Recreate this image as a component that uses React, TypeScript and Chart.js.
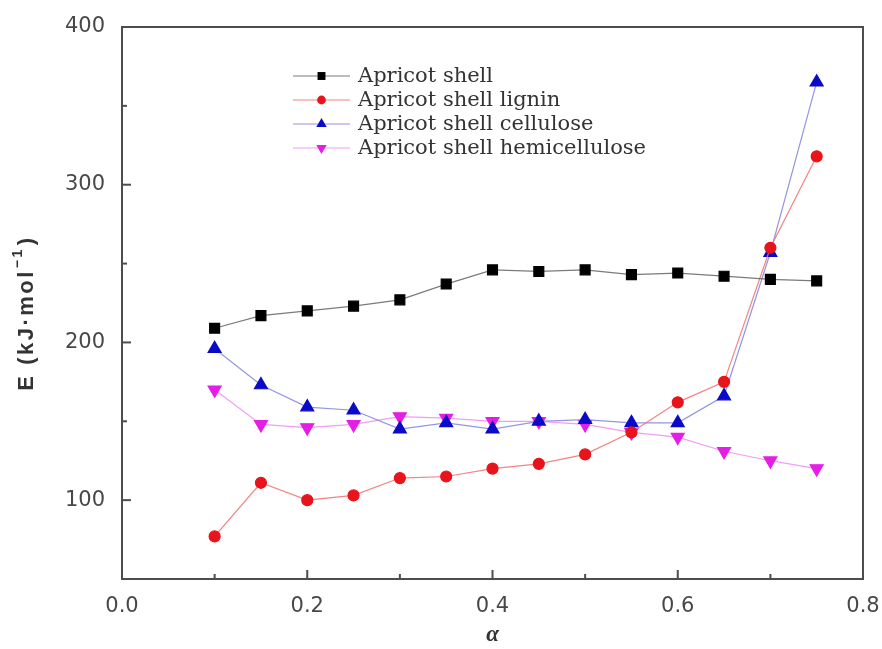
import React, { useEffect, useRef } from 'react';
import { Chart, registerables } from 'chart.js';

Chart.register(...registerables);

const alphaValues = [0.1, 0.15, 0.2, 0.25, 0.3, 0.35, 0.4, 0.45, 0.5, 0.55, 0.6, 0.65, 0.7, 0.75];
const shellValues = [209, 217, 220, 223, 227, 237, 246, 245, 246, 243, 244, 242, 240, 239];
const ligninValues = [77, 111, 100, 103, 114, 115, 120, 123, 129, 143, 162, 175, 260, 318];
const celluloseValues = [196, 173, 159, 157, 145, 149, 145, 150, 151, 149, 149, 166, 257, 365];
const hemicelluloseValues = [170, 148, 146, 148, 153, 152, 150, 150, 148, 143, 140, 131, 125, 120];

const seriesNames = [
  'Apricot shell',
  'Apricot shell lignin',
  'Apricot shell cellulose',
  'Apricot shell hemicellulose',
];

const xTickLabels = [0, 0.2, 0.4, 0.6, 0.8];
const xMinorTicks = [0.1, 0.3, 0.5, 0.7];
const yTickLabels = [100, 200, 300, 400];
const yMinorTicks = [150, 250, 350];

const yTitleMain = 'E (kJ·mol';
const yTitleSup = '−1';
const yTitleEnd = ')';

const toPoints = (ys: number[]) => alphaValues.map((x, i) => ({ x, y: ys[i] }));

function drawMarker(ctx: CanvasRenderingContext2D, style: string, x: number, y: number, r: number, rot: number) {
  ctx.beginPath();
  if (style === 'rect') {
    const s = Math.SQRT1_2 * r;
    ctx.rect(x - s, y - s, 2 * s, 2 * s);
  } else if (style === 'circle') {
    ctx.arc(x, y, r, 0, Math.PI * 2);
  } else if (style === 'triangle') {
    let a = (rot * Math.PI) / 180;
    ctx.moveTo(x + Math.sin(a) * r, y - Math.cos(a) * r);
    a += (2 * Math.PI) / 3;
    ctx.lineTo(x + Math.sin(a) * r, y - Math.cos(a) * r);
    a += (2 * Math.PI) / 3;
    ctx.lineTo(x + Math.sin(a) * r, y - Math.cos(a) * r);
    ctx.closePath();
  }
  ctx.fill();
}

const framePlugin = {
  id: 'frameAndTicks',
  afterDraw(chart: any) {
    const { ctx, chartArea } = chart;
    const xs = chart.scales.x;
    const ys = chart.scales.y;
    ctx.save();
    ctx.strokeStyle = '#4d4d4d';
    ctx.lineWidth = 2;
    ctx.strokeRect(chartArea.left, chartArea.top, chartArea.right - chartArea.left, chartArea.bottom - chartArea.top);
    xTickLabels.forEach((v) => {
      const px = xs.getPixelForValue(v);
      ctx.beginPath();
      ctx.moveTo(px, chartArea.bottom);
      ctx.lineTo(px, chartArea.bottom - 9);
      ctx.stroke();
    });
    xMinorTicks.forEach((v) => {
      const px = xs.getPixelForValue(v);
      ctx.beginPath();
      ctx.moveTo(px, chartArea.bottom);
      ctx.lineTo(px, chartArea.bottom - 5);
      ctx.stroke();
    });
    yTickLabels.forEach((v) => {
      const py = ys.getPixelForValue(v);
      ctx.beginPath();
      ctx.moveTo(chartArea.left, py);
      ctx.lineTo(chartArea.left + 9, py);
      ctx.stroke();
    });
    yMinorTicks.forEach((v) => {
      const py = ys.getPixelForValue(v);
      ctx.beginPath();
      ctx.moveTo(chartArea.left, py);
      ctx.lineTo(chartArea.left + 5, py);
      ctx.stroke();
    });

    // y-axis title with superscript
    ctx.save();
    ctx.translate(27, 313);
    ctx.rotate(-Math.PI / 2);
    ctx.fillStyle = '#333';
    ctx.textBaseline = 'middle';
    ctx.textAlign = 'left';
    (ctx as any).letterSpacing = '2.5px';
    const mainFont = 'bold 22px "Liberation Sans", Arial, sans-serif';
    const supFont = 'bold 14px "Liberation Sans", Arial, sans-serif';
    ctx.font = mainFont;
    const w1 = ctx.measureText(yTitleMain).width;
    const w3 = ctx.measureText(yTitleEnd).width;
    ctx.font = supFont;
    const w2 = ctx.measureText(yTitleSup).width + 3;
    const total = w1 + w2 + w3;
    let cx = -total / 2;
    ctx.font = mainFont;
    ctx.fillText(yTitleMain, cx, 0);
    cx += w1;
    ctx.font = supFont;
    ctx.fillText(yTitleSup, cx + 1, -9);
    cx += w2;
    ctx.font = mainFont;
    ctx.fillText(yTitleEnd, cx, 0);
    ctx.restore();

    // legend
    const ds = chart.data.datasets;
    const lx0 = chartArea.left + 171;
    const lx1 = chartArea.left + 228;
    const ly0 = chartArea.top + 49;
    ds.forEach((d: any, i: number) => {
      const y = ly0 + i * 24;
      ctx.strokeStyle = d.borderColor;
      ctx.lineWidth = 1.2;
      ctx.beginPath();
      ctx.moveTo(lx0, y);
      ctx.lineTo(lx1, y);
      ctx.stroke();
      ctx.fillStyle = d.pointBackgroundColor;
      drawMarker(ctx, d.pointStyle, (lx0 + lx1) / 2, y, d.pointRadius * 0.8, d.pointRotation || 0);
      ctx.fillStyle = '#333';
      ctx.font = '21px "DejaVu Serif", "Liberation Serif", serif';
      ctx.textBaseline = 'middle';
      ctx.textAlign = 'left';
      ctx.fillText(d.label, lx1 + 8, y + 1);
    });
    ctx.restore();
  },
};

export default function App() {
  const canvasRef = useRef<HTMLCanvasElement | null>(null);

  useEffect(() => {
    if (!canvasRef.current) return;
    const chart = new Chart(canvasRef.current, {
      type: 'line',
      data: {
        datasets: [
          {
            label: seriesNames[0],
            data: toPoints(shellValues),
            borderColor: 'rgba(90,90,90,0.8)',
            backgroundColor: '#000',
            pointBackgroundColor: '#000',
            pointBorderColor: '#000',
            pointStyle: 'rect',
            pointRadius: 7,
            borderWidth: 1.2,
          },
          {
            label: seriesNames[1],
            data: toPoints(ligninValues),
            borderColor: 'rgba(240,110,110,0.85)',
            backgroundColor: '#e8141b',
            pointBackgroundColor: '#e8141b',
            pointBorderColor: '#e8141b',
            pointStyle: 'circle',
            pointRadius: 5.5,
            borderWidth: 1.2,
          },
          {
            label: seriesNames[2],
            data: toPoints(celluloseValues),
            borderColor: 'rgba(130,130,220,0.85)',
            backgroundColor: '#0a0ac8',
            pointBackgroundColor: '#0a0ac8',
            pointBorderColor: '#0a0ac8',
            pointStyle: 'triangle',
            pointRadius: 7.5,
            borderWidth: 1.2,
          },
          {
            label: seriesNames[3],
            data: toPoints(hemicelluloseValues),
            borderColor: 'rgba(240,140,240,0.85)',
            backgroundColor: '#e41ee4',
            pointBackgroundColor: '#e41ee4',
            pointBorderColor: '#e41ee4',
            pointStyle: 'triangle',
            pointRotation: 180,
            pointRadius: 7.5,
            borderWidth: 1.2,
          },
        ] as any,
      },
      options: {
        animation: false,
        responsive: false,
        maintainAspectRatio: false,
        layout: { padding: { left: 0, right: 19, top: 27, bottom: 0 } },
        plugins: {
          legend: { display: false },
          tooltip: { enabled: false },
        },
        scales: {
          x: {
            type: 'linear',
            min: 0,
            max: 0.8,
            grid: { display: false, drawTicks: false },
            border: { display: false },
            afterBuildTicks: (s: any) => {
              s.ticks = xTickLabels.map((v) => ({ value: v }));
            },
            afterFit: (s: any) => {
              s.height = 70;
              s.paddingLeft = 0;
              s.paddingRight = 0;
            },
            ticks: {
              padding: 15,
              color: '#484848',
              font: { family: '"DejaVu Sans", sans-serif', size: 21 },
              callback: (v: any) => Number(v).toFixed(1),
            },
            title: {
              display: true,
              text: 'α',
              color: '#333',
              padding: { top: 0, bottom: 0 },
              font: { family: '"Liberation Serif", serif', size: 23, style: 'italic', weight: 'bold' },
            },
          },
          y: {
            type: 'linear',
            min: 50,
            max: 400,
            grid: { display: false, drawTicks: false },
            border: { display: false },
            afterBuildTicks: (s: any) => {
              s.ticks = yTickLabels.map((v) => ({ value: v }));
            },
            afterFit: (s: any) => {
              s.width = 122;
              s.paddingTop = 0;
              s.paddingBottom = 0;
            },
            ticks: {
              padding: 17,
              color: '#484848',
              font: { family: '"DejaVu Sans", sans-serif', size: 21 },
            },
            title: { display: false },
          },
        },
      },
      plugins: [framePlugin],
    });
    return () => chart.destroy();
  }, []);

  return (
    <div style={{ position: 'fixed', left: 0, top: 0, width: 882, height: 649, background: '#fff' }}>
      <canvas ref={canvasRef} width={882} height={649} style={{ width: 882, height: 649 }} />
    </div>
  );
}
